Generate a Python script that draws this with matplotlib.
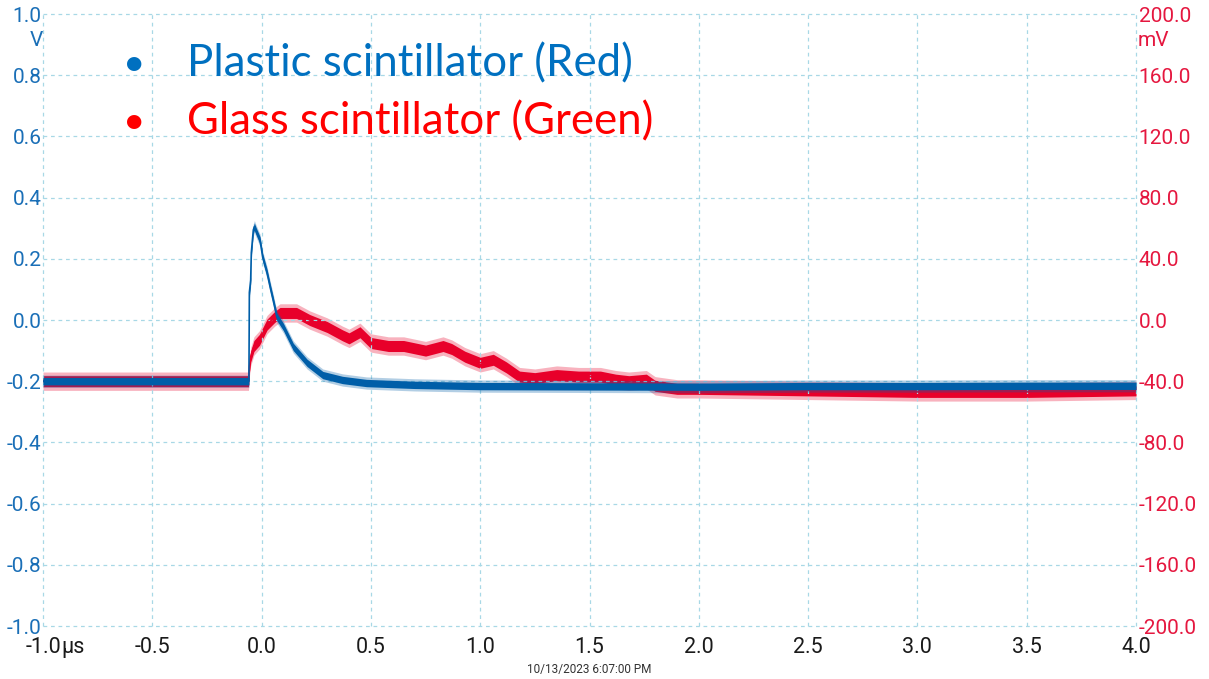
import matplotlib
matplotlib.use("Agg")
import matplotlib.pyplot as plt
import numpy as np

# ---- data read off the scope capture ----
# plastic scintillator, left axis (V), time in microseconds
plastic_t = [-1.0, -0.058, -0.056, -0.050, -0.047, -0.038, -0.033, -0.025, -0.007,
             0.005, 0.025, 0.040, 0.053, 0.070, 0.100, 0.145, 0.208, 0.280, 0.370,
             0.480, 0.700, 1.000, 1.500, 2.000, 2.500, 3.000, 3.500, 4.000]
plastic_v = [-0.200, -0.200, 0.090, 0.130, 0.220, 0.294, 0.305, 0.290, 0.260,
             0.205, 0.154, 0.105, 0.065, 0.010, -0.023, -0.088, -0.140, -0.180, -0.196,
             -0.206, -0.212, -0.216, -0.217, -0.218, -0.216, -0.216, -0.215, -0.215]

# glass scintillator, right axis (mV)
glass_t = [-1.0, -0.060, -0.055, -0.050, -0.035, -0.010, 0.025, 0.060, 0.084, 0.160,
           0.220, 0.300, 0.370, 0.400, 0.450, 0.500, 0.580, 0.650, 0.750, 0.830,
           0.870, 0.930, 1.000, 1.060, 1.120, 1.180, 1.250, 1.350, 1.450, 1.550,
           1.620, 1.680, 1.760, 1.800, 1.900, 2.000, 2.500, 3.000, 3.500, 4.000]
glass_mv = [-40, -40, -30, -24, -17, -13, -3, 2, 4.6, 4.6,
            0, -4.6, -10, -12, -8, -15, -17, -17, -20, -17,
            -19, -24, -28, -26, -31, -37, -38, -36, -37, -37,
            -39, -40, -39, -43, -45, -45, -46, -47, -47, -46]

x_ticks = [-1.0, -0.5, 0.0, 0.5, 1.0, 1.5, 2.0, 2.5, 3.0, 3.5, 4.0]
v_ticks = [-1.0, -0.8, -0.6, -0.4, -0.2, 0.0, 0.2, 0.4, 0.6, 0.8, 1.0]
mv_ticks = [-200, -160, -120, -80, -40, 0, 40, 80, 120, 160, 200]

legend_labels = ["Plastic scintillator (Red)", "Glass scintillator (Green)"]
timestamp = "10/13/2023 6:07:00 PM"

BLUE_TRACE = "#005EA8"
RED_TRACE = "#E8002A"
BLUE_TXT = "#1A6FB7"
RED_TXT = "#E5173F"
GRID = "#A8D8E6"

plt.rcParams["font.family"] = ["Roboto", "DejaVu Sans"]
plt.rcParams["axes.unicode_minus"] = False

W, H = 1209, 679
fig = plt.figure(figsize=(W / 100, H / 100), dpi=100)
ax = fig.add_axes([43 / W, 1 - 626 / H, (1136 - 43) / W, (626 - 14) / H])
ax2 = ax.twinx()

# blue sits above red, grid goes under both
ax.set_zorder(2)
ax2.set_zorder(1)
ax.patch.set_visible(False)

ax.set_xlim(-1.0, 4.0)
ax.set_ylim(-1.0, 1.0)
ax2.set_ylim(-200, 200)

# noise bands (scope traces are fuzzy)
gt = np.array(glass_t)
gm = np.array(glass_mv)
ax2.fill_between(gt, gm - 6.0, gm + 6.0, color=RED_TRACE, alpha=0.30, lw=0)
ax2.fill_between(gt, gm - 3.6, gm + 3.6, color=RED_TRACE, lw=0)
ax2.plot(gt, gm, color=RED_TRACE, lw=1.2)

pt = np.array(plastic_t)
pv = np.array(plastic_v)
ax.fill_between(pt, pv - 0.020, pv + 0.020, color=BLUE_TRACE, alpha=0.30, lw=0)
ax.fill_between(pt, pv - 0.012, pv + 0.012, color=BLUE_TRACE, lw=0)
ax.plot(pt, pv, color=BLUE_TRACE, lw=1.2)

# grid on the lower axes (twinx hides its x axis, switch it back on)
ax2.xaxis.set_visible(True)
ax2.set_xticks(x_ticks)
ax2.set_yticks(mv_ticks)
ax2.tick_params(axis="x", length=0, labelbottom=False, labeltop=False)
ax2.grid(True, color=GRID, lw=0.9, ls=(0, (3, 3)))
for line in ax2.get_xgridlines() + ax2.get_ygridlines():
    line.set_clip_on(False)

for a in (ax, ax2):
    for s in a.spines.values():
        s.set_visible(False)

ax.set_xticks(x_ticks)
ax.set_xticklabels([f"{v:.1f}" for v in x_ticks])
ax.set_yticks(v_ticks)
ax.set_yticklabels([f"{v:.1f}" for v in v_ticks])
ax2.set_yticklabels([f"{v:.1f}" for v in mv_ticks])

ax.tick_params(axis="x", length=0, pad=8, labelsize=15.5, labelcolor="#1a1a1a")
ax.tick_params(axis="y", length=0, pad=1, labelsize=15, labelcolor=BLUE_TXT)
ax2.tick_params(axis="y", length=0, pad=2, labelsize=15, labelcolor=RED_TXT)

ax.annotate("µs", xy=(-1.0, 0), xycoords=("data", "axes fraction"),
            xytext=(13, -8), textcoords="offset points", ha="left", va="top",
            fontsize=15.5, color="#1a1a1a")

fig.text(36 / W, 1 - 40 / H, "V", ha="center", va="center", fontsize=15, color=BLUE_TXT)
fig.text(1138 / W, 1 - 40 / H, "mV", ha="left", va="center", fontsize=15, color=RED_TXT)

fig.text(589 / W, 1 - 669 / H, timestamp, ha="center", va="center", fontsize=8.5,
         color="#333333")

# legend from the slide
leg_font = ["Lato", "DejaVu Sans"]
for label, color, y in zip(legend_labels, ["#0070C0", "#FF0000"], [64, 122]):
    fig.text(134 / W, 1 - y / H, "•", ha="center", va="center", fontsize=28,
             color=color, family=leg_font)
    fig.text(187 / W, 1 - y / H, label, ha="left", va="center", fontsize=31.5,
             color=color, family=leg_font)

fig.savefig("out.png", dpi=100)
